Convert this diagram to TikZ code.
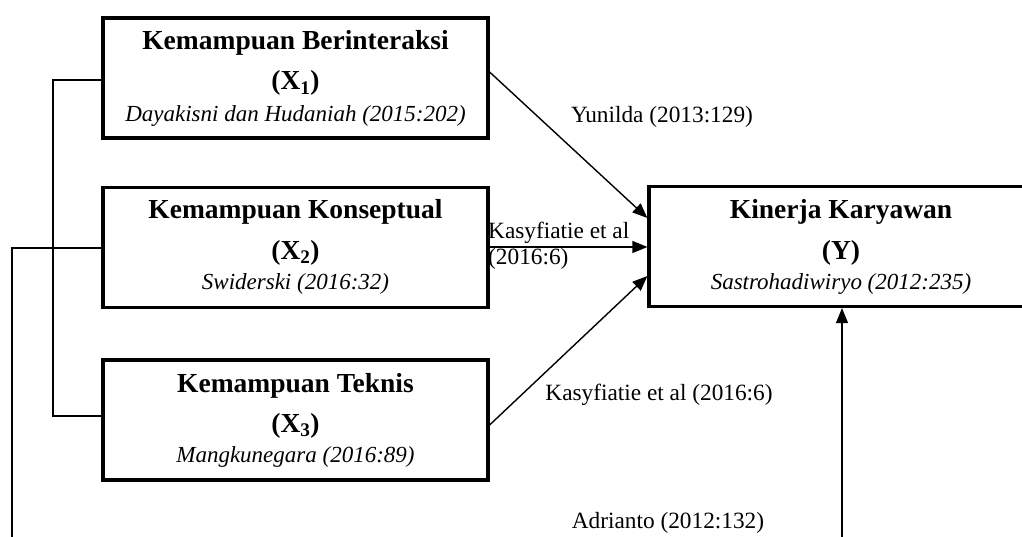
\documentclass[tikz,border=0pt]{standalone}
\usepackage{fontspec}
\setmainfont{Liberation Serif}
\usetikzlibrary{arrows.meta}
\begin{document}
\begin{tikzpicture}[x=1pt,y=-1pt,
  varbox/.style={draw,line width=3.2pt,inner sep=0pt},
  ttl/.style={anchor=base,inner sep=0pt,font=\fontsize{27.5}{32}\selectfont\bfseries},
  sym/.style={anchor=base,inner sep=0pt,font=\fontsize{27.5}{32}\selectfont\bfseries},
  src/.style={anchor=base,inner sep=0pt,font=\fontsize{23}{27}\selectfont\itshape},
  lbl/.style={anchor=base,inner sep=0pt,font=\fontsize{23.3}{27}\selectfont},
  conn/.style={line width=1.4pt},
  arr/.style={line width=1.4pt,-{Triangle[length=15pt,width=12pt]}}]
\useasboundingbox (0,0) rectangle (1022,537);
% boxes
\node[varbox,minimum width=385pt,minimum height=120pt] (x1) at (295.5,78) {};
\node[varbox,minimum width=385pt,minimum height=120pt] (x2) at (295.5,247.5) {};
\node[varbox,minimum width=385pt,minimum height=120pt] (x3) at (295.5,420) {};
\node[varbox,minimum width=384pt,minimum height=120pt] (y) at (841,246.5) {};
% box texts
\node[ttl] (x1t) at (295.5,50) {Kemampuan Berinteraksi};
\node[sym] (x1s) at (295.5,90) {(X\textsubscript{1})};
\node[src] (x1r) at (295.5,122) {Dayakisni dan Hudaniah (2015:202)};
\node[ttl] (x2t) at (295.5,219) {Kemampuan Konseptual};
\node[sym] (x2s) at (295.5,259) {(X\textsubscript{2})};
\node[src] (x2r) at (295.5,290) {Swiderski (2016:32)};
\node[ttl] (x3t) at (295.5,392) {Kemampuan Teknis};
\node[sym] (x3s) at (295.5,432) {(X\textsubscript{3})};
\node[src] (x3r) at (295.5,462) {Mangkunegara (2016:89)};
\node[ttl] (yt) at (841,219) {Kinerja Karyawan};
\node[sym] (ys) at (841,259) {(Y)};
\node[src] (yr) at (841,290) {Sastrohadiwiryo (2012:235)};
% labels
\node[lbl] (l1) at (662,123) {Yunilda (2013:129)};
\node[lbl,anchor=base west] (l2a) at (488,239) {Kasyfiatie et al};
\node[lbl,anchor=base west] (l2b) at (488,265) {(2016:6)};
\node[lbl] (l3) at (659,400) {Kasyfiatie et al (2016:6)};
\node[lbl] (l4) at (668,528) {Adrianto (2012:132)};
% coordinates
\coordinate (bl1) at (53,80);
\coordinate (bl3) at (53,416);
\coordinate (bl2) at (12,248);
\coordinate (bot2) at (12,540);
\coordinate (boty) at (842,540);
% connectors
\draw[arr] (x1.east |- 0,72) -- (y.west |- 0,218);
\draw[arr] (x2.east |- 0,247) -- (y.west |- 0,247);
\draw[arr] (x3.east |- 0,425) -- (y.west |- 0,276);
\draw[arr] (boty) -- (y.south -| boty);
\draw[conn] (x1.west |- bl1) -- (bl1) -- (bl3) -- (x3.west |- bl3);
\draw[conn] (x2.west |- bl2) -- (bl2) -- (bot2);
\end{tikzpicture}
\end{document}
